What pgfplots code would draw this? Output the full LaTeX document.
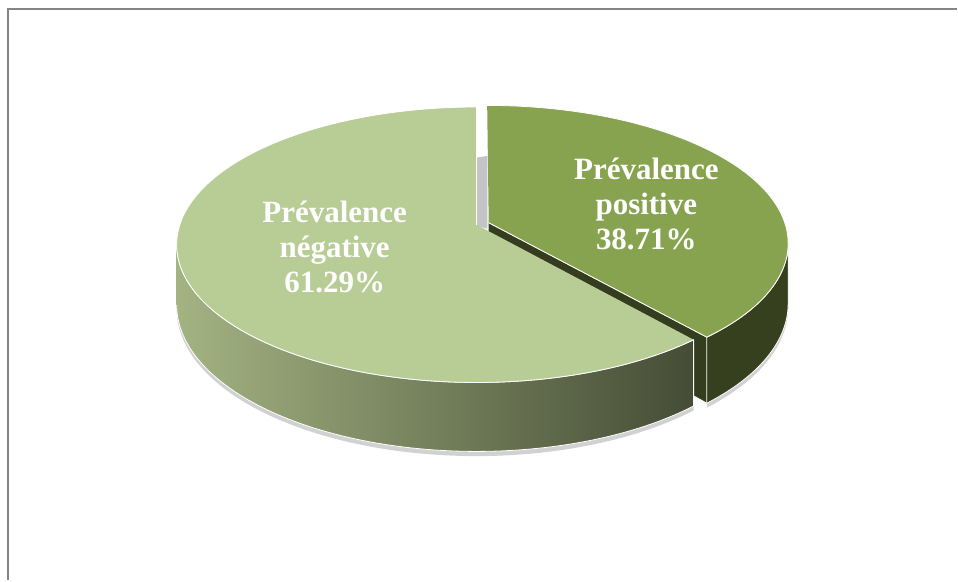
\documentclass[border=0pt]{standalone}
\usepackage{pgfplots}
\pgfplotsset{compat=1.18}
\usepackage{fontspec}
\setmainfont{Liberation Serif}
\definecolor{negtop}{RGB}{184,204,149}
\definecolor{postop}{RGB}{136,163,80}
\definecolor{posside}{RGB}{54,64,31}
\definecolor{poscut}{RGB}{52,62,30}
\definecolor{negsideL}{RGB}{163,179,130}
\definecolor{negsideR}{RGB}{69,76,53}
\definecolor{framegray}{RGB}{133,133,133}
\definecolor{sliver}{RGB}{196,196,196}

% data (percent)
\def\valpos{38.71}
\def\valneg{61.29}
\pgfmathsetmacro\angpos{90-3.6*\valpos}
\pgfmathsetmacro\angneg{90+3.6*\valneg}
\pgfmathsetmacro\angmid{90-1.8*\valpos}
\pgfmathsetmacro\du{0.044*cos(\angmid)}
\pgfmathsetmacro\dv{0.044*sin(\angmid)}
\pgfmathsetmacro\silR{-asin(0.145*(1+\du))}
\pgfmathsetmacro\silL{180+asin(0.145)}

% top face of a wedge: #1 start, #2 end, #3 du, #4 dv, #5 style
\newcommand{\topface}[5]{%
  \addplot[#5, samples at={0,1,...,101}, variable=\s]
   ({PX(ta(\s,#1,#2), rt(\s), #3, #4)},
    {PY(ta(\s,#1,#2), rt(\s), #3, #4, 0)});
}
% outer side: #1 start, #2 end, #3 du, #4 dv, #5 depth, #6 style
\newcommand{\sideface}[6]{%
  \addplot[#6, samples at={0,1,...,201}, variable=\s]
   ({PX(tt(\s,#1,#2), 1, #3, #4)},
    {PY(tt(\s,#1,#2), 1, #3, #4, hh(\s,#5))});
}
% radial cut face: #1 angle, #2 du, #3 dv, #4 depth, #5 style
\newcommand{\cutface}[5]{%
  \addplot[#5, samples at={0,1,2,3}, variable=\s]
   ({PX(#1, rc(\s), #2, #3)},
    {PY(#1, rc(\s), #2, #3, hc(\s,#4))});
}

\begin{document}
\begin{tikzpicture}[
  declare function={
    PX(\t,\r,\a,\b)=477+297*(\r*cos(\t)+\a)/(1+0.145*(\r*sin(\t)+\b));
    PY(\t,\r,\a,\b,\h)=225+(\h-135*(\r*sin(\t)+\b))/(1+0.145*(\r*sin(\t)+\b));
    ta(\s,\a,\b)=(\a)+max(\s-1,0)*((\b)-(\a))/100;
    rt(\s)=(\s>0.5);
    tt(\s,\a,\b)=(\s<100.5)?((\a)+\s*((\b)-(\a))/100):((\b)-(\s-101)*((\b)-(\a))/100);
    hh(\s,\H)=(\s>100.5)*\H;
    rc(\s)=and(\s>0.5,\s<2.5);
    hc(\s,\H)=(\s>1.5)*\H;
  }]
\begin{axis}[
  scale only axis, width=479pt, height=290.5pt,
  xmin=0, xmax=958, ymin=0, ymax=581, y dir=reverse,
  axis line style={draw=none}, xtick=\empty, ytick=\empty, clip=false,
]
% invisible corners to keep the full canvas
\addplot[draw=none] coordinates {(0,0) (958,581)};
% frame
\addplot[framegray, line width=1pt] coordinates {(8,581) (8,9) (958,9)};

% shadows
\sideface{\angpos}{\silR}{\du}{\dv}{63}{draw=none, fill=black!30, opacity=0.6}
\sideface{\silL}{\angneg}{0}{0}{63}{draw=none, fill=black!30, opacity=0.6}

% positive slice: side and cut face
\sideface{\angpos}{\silR}{\du}{\dv}{59}{draw=white, line width=0.4pt, fill=posside, line join=round}
\cutface{\angpos}{\du}{\dv}{59}{draw=white, line width=0.4pt, fill=poscut, line join=round}

% inner grey face visible in the gap
\addplot[draw=none, fill=sliver] coordinates {(476,158) (488,156) (488,229) (476,226)} -- cycle;

% negative slice: side and top
\sideface{\silL}{\angneg}{0}{0}{59}{draw=white, line width=0.4pt, left color=negsideL, right color=negsideR, line join=round}
\topface{90}{\angneg}{0}{0}{draw=white, line width=0.4pt, fill=negtop, line join=round}

% positive slice: top
\topface{\angpos}{90}{\du}{\dv}{draw=white, line width=0.4pt, fill=postop, line join=round}

% labels
\node[text=white, align=center, font=\fontsize{15.5}{17.5}\selectfont\bfseries]
  at (axis cs:335,247) {Prévalence\\négative\\61.29\%};
\node[text=white, align=center, font=\fontsize{15.5}{17.5}\selectfont\bfseries]
  at (axis cs:647,204) {Prévalence\\positive\\38.71\%};
\end{axis}
\end{tikzpicture}
\end{document}
